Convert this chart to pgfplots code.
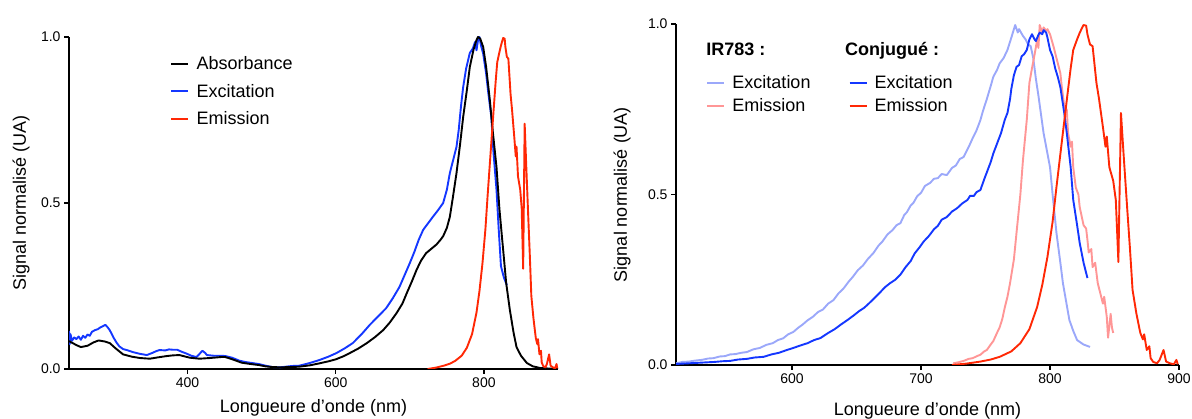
\documentclass[border=0pt]{standalone}
\usepackage{pgfplots}
\pgfplotsset{compat=1.18}
\usepackage{pgfplotstable}
\usepackage{fontspec}
\setmainfont{Liberation Sans}

\definecolor{cblue}{RGB}{20,55,255}
\definecolor{cred}{RGB}{255,40,5}
\definecolor{lblue}{RGB}{155,168,250}
\definecolor{lred}{RGB}{255,150,150}

% Left panel
\pgfplotstableread{
x y
240 0.084
250 0.072
256 0.066
265 0.070
273 0.080
280 0.086
288 0.083
295 0.078
303 0.062
313 0.044
325 0.037
336 0.033
349 0.031
360 0.035
372 0.039
380 0.041
389 0.042
396 0.038
403 0.034
416 0.031
430 0.033
445 0.036
451 0.036
462 0.028
473 0.019
485 0.015
496 0.012
505 0.008
514 0.006
525 0.005
541 0.006
551 0.007
565 0.011
578 0.017
590 0.023
600 0.029
610 0.038
619 0.048
630 0.061
642 0.078
653 0.096
664 0.117
673 0.140
682 0.168
690 0.197
696 0.229
703 0.265
709 0.298
715 0.326
722 0.349
729 0.362
736 0.375
741 0.388
745 0.400
750 0.425
754 0.458
758 0.515
763 0.590
768 0.680
772 0.759
777 0.840
781 0.910
786 0.962
790 0.991
792 1.000
795 0.995
799 0.970
803 0.910
808 0.810
812 0.715
817 0.608
821 0.480
826 0.358
830 0.260
835 0.178
840 0.110
844 0.066
850 0.040
858 0.018
866 0.008
876 0.003
890 0.001
900 0.000
}\absorbance

\pgfplotstableread{
x y
240 0.115
241 0.075
242 0.105
244 0.085
247 0.095
250 0.090
253 0.098
256 0.088
259 0.100
262 0.094
265 0.104
268 0.100
271 0.112
275 0.117
279 0.120
282 0.125
285 0.128
289 0.133
292 0.126
295 0.117
300 0.095
304 0.080
308 0.068
313 0.060
318 0.057
326 0.051
335 0.046
345 0.042
352 0.048
358 0.054
362 0.057
370 0.056
375 0.059
380 0.058
386 0.058
392 0.052
398 0.047
405 0.040
412 0.036
416 0.045
420 0.055
424 0.048
426 0.042
435 0.040
445 0.040
451 0.039
460 0.034
470 0.025
478 0.021
487 0.018
496 0.015
505 0.010
514 0.006
525 0.005
541 0.009
551 0.010
565 0.018
578 0.027
590 0.037
601 0.048
612 0.062
623 0.078
635 0.105
646 0.133
657 0.158
668 0.183
677 0.213
686 0.247
693 0.283
700 0.319
706 0.352
712 0.389
718 0.419
724 0.437
731 0.458
738 0.478
745 0.500
750 0.540
754 0.590
758 0.625
763 0.669
766 0.720
769 0.790
772 0.849
776 0.905
781 0.952
785 0.965
788 0.985
790 0.960
792 0.990
794 1.000
796 0.975
799 0.950
803 0.890
806 0.830
810 0.760
813 0.650
817 0.540
820 0.420
823 0.310
827 0.275
831 0.253
}\excitation

\pgfplotstableread{
x y
724 0.000
735 0.004
746 0.010
754 0.016
761 0.024
770 0.040
777 0.064
784 0.105
790 0.170
794 0.235
798 0.317
802 0.420
805 0.522
809 0.650
813 0.777
816 0.870
818 0.924
821 0.955
823 0.974
825 0.990
826 0.997
828 0.995
829 0.970
831 0.940
833 0.935
836 0.827
838 0.780
841 0.698
843 0.640
844 0.670
846 0.580
849 0.540
851 0.484
853 0.302
855 0.739
857 0.620
860 0.450
862 0.340
864 0.220
867 0.150
870 0.094
872 0.075
873 0.090
875 0.044
877 0.055
878 0.020
880 0.009
883 0.005
885 0.015
888 0.044
890 0.010
893 0.005
896 0.002
898 0.015
899 0.002
}\emission

% Right panel
\pgfplotstableread{
x y
510 0.005
515 0.009
520 0.010
525 0.013
530 0.015
535 0.019
539 0.020
544 0.025
548 0.026
552 0.031
556 0.032
561 0.036
565 0.038
570 0.046
575 0.050
580 0.059
585 0.064
589 0.073
593 0.078
597 0.090
601 0.097
605 0.110
608 0.118
612 0.131
616 0.141
620 0.155
624 0.163
628 0.180
632 0.190
636 0.210
640 0.225
644 0.245
647 0.258
651 0.278
655 0.292
659 0.312
663 0.328
667 0.350
670 0.362
674 0.383
678 0.396
681 0.410
684 0.416
687 0.440
689 0.448
692 0.468
694 0.475
697 0.495
700 0.505
703 0.525
707 0.534
710 0.546
713 0.548
716 0.560
720 0.557
724 0.578
727 0.585
730 0.604
733 0.610
737 0.640
740 0.665
743 0.688
746 0.718
748 0.745
751 0.780
754 0.818
756 0.845
759 0.866
761 0.885
764 0.900
767 0.924
770 0.960
772 0.985
773 0.997
775 0.975
776 0.985
779 0.965
781 0.955
783 0.940
785 0.935
787 0.900
789 0.840
791 0.790
793 0.735
795 0.680
797 0.640
800 0.580
802 0.500
805 0.387
808 0.300
810 0.240
813 0.175
815 0.132
818 0.100
821 0.073
826 0.060
831 0.053
}\irexc

\pgfplotstableread{
x y
510 0.003
520 0.005
530 0.007
540 0.009
546 0.011
552 0.012
558 0.016
565 0.018
571 0.022
578 0.024
584 0.031
590 0.036
596 0.044
601 0.050
607 0.058
612 0.064
617 0.073
622 0.079
628 0.094
633 0.105
638 0.119
643 0.132
648 0.146
652 0.158
656 0.168
660 0.182
664 0.197
668 0.212
672 0.228
676 0.240
680 0.250
684 0.265
688 0.287
692 0.305
695 0.327
699 0.346
702 0.362
706 0.378
710 0.398
713 0.408
716 0.426
720 0.434
724 0.450
728 0.460
732 0.474
736 0.484
738 0.496
741 0.496
743 0.507
746 0.513
749 0.545
751 0.565
754 0.595
756 0.620
759 0.650
762 0.680
765 0.720
767 0.739
769 0.780
770 0.810
772 0.850
774 0.874
776 0.880
778 0.905
780 0.912
782 0.924
784 0.955
786 0.970
788 0.955
789 0.950
791 0.968
792 0.975
794 0.970
795 0.982
797 0.975
798 0.960
800 0.924
802 0.905
804 0.870
806 0.845
808 0.815
811 0.740
813 0.680
816 0.580
818 0.484
821 0.410
823 0.358
826 0.300
829 0.255
}\conjexc

\pgfplotstableread{
x y
725 0.005
729 0.008
733 0.012
737 0.018
740 0.020
744 0.027
746 0.030
749 0.040
751 0.044
754 0.060
756 0.070
759 0.095
761 0.111
763 0.135
765 0.170
767 0.200
769 0.240
772 0.310
774 0.387
777 0.500
779 0.600
782 0.720
784 0.827
786 0.870
788 0.910
790 0.953
791 0.930
792 0.997
794 0.975
795 0.990
797 0.980
798 0.985
800 0.970
803 0.930
805 0.900
808 0.856
809 0.820
810 0.790
811 0.760
813 0.748
814 0.680
816 0.640
817 0.655
818 0.580
820 0.520
822 0.500
823 0.463
826 0.410
828 0.400
829 0.367
830 0.330
832 0.340
833 0.287
835 0.300
837 0.240
839 0.210
841 0.180
842 0.200
844 0.141
845 0.080
847 0.150
848 0.110
849 0.094
}\iremi

\pgfplotsset{
  panel/.style={
    scale only axis,
    axis lines=left,
    axis line style={line width=1.6pt,-},
    every tick/.style={line width=1.2pt,black},
    tick align=outside,
    major tick length=5pt,
    ymin=0, ymax=1, ytick={0,0.5,1},
    yticklabel style={/pgf/number format/.cd,fixed,fixed zerofill,precision=1},
    /pgf/number format/assume math mode=true,
    tick label style={font=\fontsize{14}{16}\selectfont},
    label style={font=\fontsize{18}{20}\selectfont},
    every axis plot/.append style={line width=1.9pt, line join=round},
    legend style={draw=none,fill=none,inner sep=0pt,font=\fontsize{18}{20}\selectfont,
      /tikz/every odd column/.append style={column sep=5pt}},
    legend image code/.code={\draw[##1,line width=2.1pt] (0pt,0pt) -- (17pt,0pt);},
    legend cell align=left,
    xlabel={Longueure d'onde (nm)},
    ylabel={Signal normalisé (UA)},
  }
}

\begin{document}
\begin{tikzpicture}
\path[use as bounding box] (0,0) rectangle (1192pt,419pt);

\begin{axis}[panel,
  at={(69pt,50pt)}, anchor=south west,
  width=489pt, height=332pt,
  xmin=240, xmax=900, xtick={400,600,800},
  xlabel style={at={(axis description cs:0.5,-0.117)},anchor=center},
  ylabel style={at={(axis description cs:-0.098,0.5)},anchor=center},
  legend style={at={(0.207,0.948)},anchor=north west,row sep=9pt},
]
\addplot[cblue, forget plot] table {\excitation};
\addplot[black, forget plot] table {\absorbance};
\addplot[cred, forget plot] table {\emission};
\addlegendimage{black}
\addlegendentry{Absorbance}
\addlegendimage{cblue}
\addlegendentry{Excitation}
\addlegendimage{cred}
\addlegendentry{Emission}
\end{axis}

\begin{axis}[panel,
  at={(676pt,54pt)}, anchor=south west,
  width=503pt, height=341pt,
  xmin=510, xmax=900, xtick={600,700,800,900},
  xlabel style={at={(axis description cs:0.5,-0.135)},anchor=center},
  ylabel style={at={(axis description cs:-0.107,0.5)},anchor=center},
  legend columns=2,
  legend style={at={(0.06,0.856)},anchor=north west,row sep=5pt,
    /tikz/every even column/.append style={column sep=36pt}},
]
\addplot[lblue, forget plot] table {\irexc};
\addplot[lred, forget plot] table {\iremi};
\addplot[cblue, forget plot] table {\conjexc};
\addplot[cred, forget plot] table {\emission};
\addlegendimage{lblue}
\addlegendentry{Excitation}
\addlegendimage{cblue}
\addlegendentry{Excitation}
\addlegendimage{lred}
\addlegendentry{Emission}
\addlegendimage{cred}
\addlegendentry{Emission}
\node[anchor=base west, inner sep=0pt, font=\fontsize{18}{20}\selectfont\bfseries] at (rel axis cs:0.06,0.909) {IR783 :};
\node[anchor=base west, inner sep=0pt, font=\fontsize{18}{20}\selectfont\bfseries] at (rel axis cs:0.336,0.909) {Conjugué :};
\end{axis}
\end{tikzpicture}
\end{document}
